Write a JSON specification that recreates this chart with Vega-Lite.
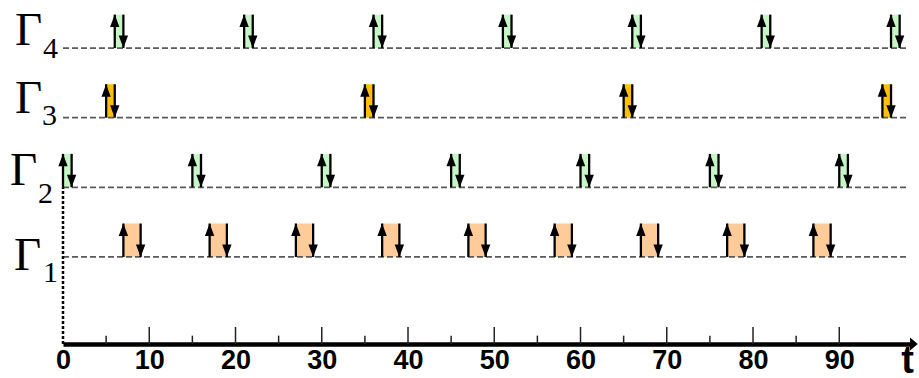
{
  "$schema": "https://vega.github.io/schema/vega-lite/v6.json",
  "autosize": {"type": "none"},
  "padding": {"left": 63, "top": 0, "right": 9, "bottom": 34},
  "width": 847,
  "height": 344,
  "background": "white",
  "config": {
    "view": {"stroke": null},
    "axisX": {"grid": false, "domainColor": "black", "domainWidth": 4.5, "ticks": false,
      "labelPadding": 3, "labelFont": "Liberation Sans", "labelFontWeight": "bold", "labelFontSize": 27,
      "labelColor": "black", "labelFlush": false, "labelOverlap": false, "labelBound": false}
  },
  "datasets": {
    "events": [
      {"row": "Γ4", "start": 6, "end": 7, "base": 4, "peak": 4.48},
      {"row": "Γ4", "start": 21, "end": 22, "base": 4, "peak": 4.48},
      {"row": "Γ4", "start": 36, "end": 37, "base": 4, "peak": 4.48},
      {"row": "Γ4", "start": 51, "end": 52, "base": 4, "peak": 4.48},
      {"row": "Γ4", "start": 66, "end": 67, "base": 4, "peak": 4.48},
      {"row": "Γ4", "start": 81, "end": 82, "base": 4, "peak": 4.48},
      {"row": "Γ4", "start": 96, "end": 97, "base": 4, "peak": 4.48},
      {"row": "Γ3", "start": 5, "end": 6, "base": 3, "peak": 3.48},
      {"row": "Γ3", "start": 35, "end": 36, "base": 3, "peak": 3.48},
      {"row": "Γ3", "start": 65, "end": 66, "base": 3, "peak": 3.48},
      {"row": "Γ3", "start": 95, "end": 96, "base": 3, "peak": 3.48},
      {"row": "Γ2", "start": 0, "end": 1, "base": 2, "peak": 2.48},
      {"row": "Γ2", "start": 15, "end": 16, "base": 2, "peak": 2.48},
      {"row": "Γ2", "start": 30, "end": 31, "base": 2, "peak": 2.48},
      {"row": "Γ2", "start": 45, "end": 46, "base": 2, "peak": 2.48},
      {"row": "Γ2", "start": 60, "end": 61, "base": 2, "peak": 2.48},
      {"row": "Γ2", "start": 75, "end": 76, "base": 2, "peak": 2.48},
      {"row": "Γ2", "start": 90, "end": 91, "base": 2, "peak": 2.48},
      {"row": "Γ1", "start": 7, "end": 9, "base": 1, "peak": 1.48},
      {"row": "Γ1", "start": 17, "end": 19, "base": 1, "peak": 1.48},
      {"row": "Γ1", "start": 27, "end": 29, "base": 1, "peak": 1.48},
      {"row": "Γ1", "start": 37, "end": 39, "base": 1, "peak": 1.48},
      {"row": "Γ1", "start": 47, "end": 49, "base": 1, "peak": 1.48},
      {"row": "Γ1", "start": 57, "end": 59, "base": 1, "peak": 1.48},
      {"row": "Γ1", "start": 67, "end": 69, "base": 1, "peak": 1.48},
      {"row": "Γ1", "start": 77, "end": 79, "base": 1, "peak": 1.48},
      {"row": "Γ1", "start": 87, "end": 89, "base": 1, "peak": 1.48}
    ],
    "baselines": [{"base": 1}, {"base": 2}, {"base": 3}, {"base": 4}],
    "minor": [{"t": 5}, {"t": 15}, {"t": 25}, {"t": 35}, {"t": 45}, {"t": 55}, {"t": 65}, {"t": 75}, {"t": 85}],
    "major": [{"t": 10}, {"t": 20}, {"t": 30}, {"t": 40}, {"t": 50}, {"t": 60}, {"t": 70}, {"t": 80}, {"t": 90}],
    "labels": [
      {"sym": "Γ", "sub": "4", "gx": -5.56, "gy": 4.044, "sx": -2.32, "sy": 3.857},
      {"sym": "Γ", "sub": "3", "gx": -5.56, "gy": 3.067, "sx": -2.43, "sy": 2.895},
      {"sym": "Γ", "sub": "2", "gx": -6.14, "gy": 2.033, "sx": -2.9, "sy": 1.78},
      {"sym": "Γ", "sub": "1", "gx": -5.68, "gy": 0.813, "sx": -2.32, "sy": 0.641}
    ]
  },
  "layer": [
    {
      "data": {"name": "events"},
      "mark": {"type": "rect"},
      "encoding": {
        "x": {"field": "start", "type": "quantitative", "scale": {"domain": [0, 98.2], "nice": false, "zero": false},
          "axis": {"values": [0, 10, 20, 30, 40, 50, 60, 70, 80, 90], "title": null}},
        "x2": {"field": "end"},
        "y": {"field": "base", "type": "quantitative", "scale": {"domain": [-0.25, 4.69], "nice": false, "zero": false}, "axis": null},
        "y2": {"field": "peak"},
        "fill": {"field": "row", "type": "nominal", "legend": null,
          "scale": {"domain": ["Γ1", "Γ2", "Γ3", "Γ4"], "range": ["#ffcc99", "#c6f6c6", "#ffc000", "#c6f6c6"]}}
      }
    },
    {
      "data": {"name": "baselines"},
      "mark": {"type": "rule", "color": "#5a5a5a", "strokeWidth": 1.7, "strokeDash": [6, 3]},
      "encoding": {
        "x": {"datum": 0, "type": "quantitative", "axis": {"title": null}},
        "x2": {"datum": 98},
        "y": {"field": "base", "type": "quantitative", "axis": null}
      }
    },
    {
      "data": {"name": "events"},
      "mark": {"type": "rule", "color": "black", "strokeWidth": 2.3},
      "encoding": {
        "x": {"field": "start", "type": "quantitative", "axis": {"title": null}},
        "y": {"field": "base", "type": "quantitative", "axis": null},
        "y2": {"field": "peak"}
      }
    },
    {
      "data": {"name": "events"},
      "mark": {"type": "rule", "color": "black", "strokeWidth": 2.3},
      "encoding": {
        "x": {"field": "end", "type": "quantitative", "axis": {"title": null}},
        "y": {"field": "peak", "type": "quantitative", "axis": null},
        "y2": {"field": "base"}
      }
    },
    {
      "data": {"name": "events"},
      "mark": {"type": "point", "shape": "M0,-1L0.75,1L-0.75,1Z", "size": 156, "filled": true, "color": "black", "opacity": 1, "strokeWidth": 0, "yOffset": 6.2},
      "encoding": {
        "x": {"field": "start", "type": "quantitative", "axis": {"title": null}},
        "y": {"field": "peak", "type": "quantitative", "axis": null}
      }
    },
    {
      "data": {"name": "events"},
      "mark": {"type": "point", "shape": "M0,1L0.75,-1L-0.75,-1Z", "size": 156, "filled": true, "color": "black", "opacity": 1, "strokeWidth": 0, "yOffset": -6.2},
      "encoding": {
        "x": {"field": "end", "type": "quantitative", "axis": {"title": null}},
        "y": {"field": "base", "type": "quantitative", "axis": null}
      }
    },
    {
      "data": {"values": [{"t": 0}]},
      "mark": {"type": "rule", "color": "black", "strokeWidth": 2.5, "strokeDash": [3, 2]},
      "encoding": {
        "x": {"field": "t", "type": "quantitative", "axis": {"title": null}},
        "y": {"datum": -0.25, "type": "quantitative", "axis": null},
        "y2": {"datum": 2}
      }
    },
    {
      "data": {"name": "minor"},
      "mark": {"type": "rule", "color": "#222", "strokeWidth": 1.5},
      "encoding": {
        "x": {"field": "t", "type": "quantitative", "axis": {"title": null}},
        "y": {"datum": -0.25, "type": "quantitative", "axis": null},
        "y2": {"datum": -0.13}
      }
    },
    {
      "data": {"name": "major"},
      "mark": {"type": "rule", "color": "#222", "strokeWidth": 1.5},
      "encoding": {
        "x": {"field": "t", "type": "quantitative", "axis": {"title": null}},
        "y": {"datum": -0.25, "type": "quantitative", "axis": null},
        "y2": {"datum": -0.005}
      }
    },
    {
      "data": {"values": [{"t": 98.65}]},
      "mark": {"type": "point", "shape": "M0.6,0L-0.6,-1L-0.6,1Z", "size": 169, "filled": true, "color": "black", "opacity": 1, "strokeWidth": 0},
      "encoding": {
        "x": {"field": "t", "type": "quantitative", "axis": {"title": null}},
        "y": {"datum": -0.25, "type": "quantitative", "axis": null}
      }
    },
    {
      "data": {"values": [{"t": 97.2, "name": "t"}]},
      "mark": {"type": "text", "font": "Liberation Sans", "fontWeight": "bold", "fontSize": 38, "align": "left", "baseline": "alphabetic", "color": "black"},
      "encoding": {
        "x": {"field": "t", "type": "quantitative", "axis": {"title": null}},
        "y": {"datum": -0.66, "type": "quantitative", "axis": null},
        "text": {"field": "name"}
      }
    },
    {
      "data": {"name": "labels"},
      "mark": {"type": "text", "font": "Liberation Serif", "fontSize": 47, "align": "left", "baseline": "alphabetic", "color": "black"},
      "encoding": {
        "x": {"field": "gx", "type": "quantitative", "axis": {"title": null}},
        "y": {"field": "gy", "type": "quantitative", "axis": null},
        "text": {"field": "sym"}
      }
    },
    {
      "data": {"name": "labels"},
      "mark": {"type": "text", "font": "Liberation Serif", "fontSize": 30, "align": "left", "baseline": "alphabetic", "color": "black"},
      "encoding": {
        "x": {"field": "sx", "type": "quantitative", "axis": {"title": null}},
        "y": {"field": "sy", "type": "quantitative", "axis": null},
        "text": {"field": "sub"}
      }
    }
  ]
}
